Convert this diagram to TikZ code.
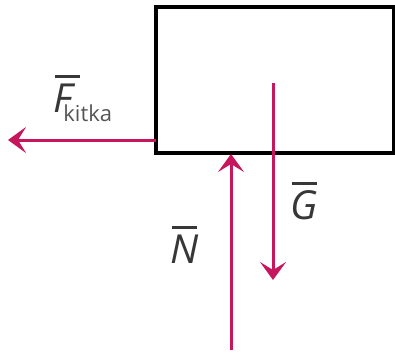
\documentclass[tikz,border=0pt]{standalone}
\usepackage{fontspec}
\setmainfont{Open Sans}
\usetikzlibrary{arrows.meta}
\definecolor{forcecol}{RGB}{198,22,92}
\definecolor{txtcol}{RGB}{55,55,55}
\definecolor{subcol}{RGB}{85,85,85}
\newcommand\vecsym[1]{\leavevmode\makebox[0pt][l]{\hspace{0.04em}\rule[0.86em]{0.62em}{0.075em}}\textit{#1}}
\tikzset{
  body/.style={draw=black, line width=3.5pt, fill=white, inner sep=0pt},
  force/.style={draw=forcecol, line width=3pt, -{Stealth[length=18pt,width=26pt,inset=8pt]}},
  lbl/.style={inner sep=0pt, anchor=base west, text=txtcol, font=\fontsize{40}{48}\selectfont},
}
\begin{document}
\begin{tikzpicture}[x=1pt,y=-1pt]
\useasboundingbox (0,0) rectangle (395,356);
\node[body, minimum width=238pt, minimum height=146pt] (box) at (275,80) {};
\coordinate (Fs) at (156,140);
\coordinate (Fe) at (8,140);
\coordinate (Gs) at (273,83);
\coordinate (Ge) at (273,280);
\coordinate (Ns) at (231,350);
\coordinate (Ne) at (231,154);
\draw[force] (Fs) -- (Fe);
\draw[force] (Gs) -- (Ge);
\draw[force] (Ns) -- (Ne);
\node[lbl] (Flab) at (53,112) {\vecsym{F}\kern-12pt\raisebox{-9pt}{\textcolor{subcol}{\fontsize{22}{26}\selectfont kitka}}};
\node[lbl] (Glab) at (290,219) {\vecsym{G}};
\node[lbl] (Nlab) at (170,263) {\vecsym{N}};
\end{tikzpicture}
\end{document}
